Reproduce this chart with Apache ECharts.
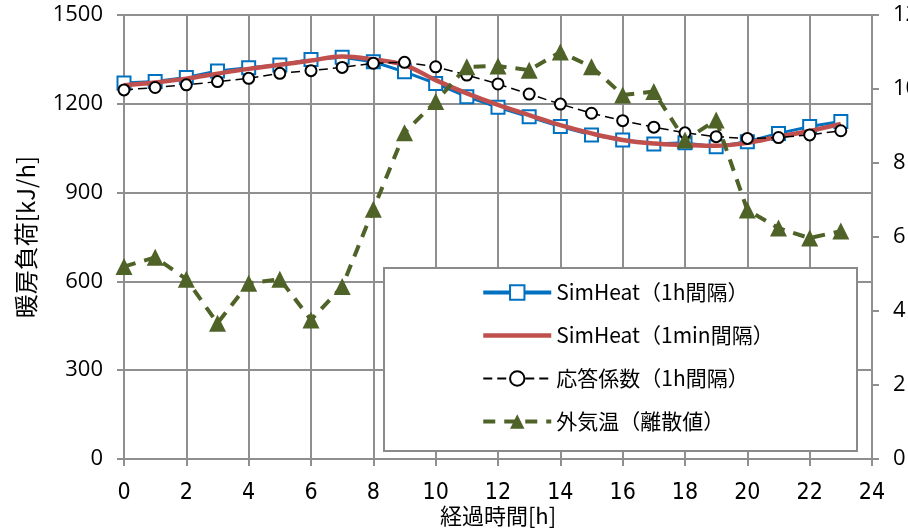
<!DOCTYPE html>
<html>
<head>
<meta charset="utf-8">
<script src="https://cdn.jsdelivr.net/npm/echarts@6/dist/echarts.min.js"></script>
<style>
html,body{margin:0;padding:0;overflow:hidden;background:#fff;}
#chart{width:960px;height:529px;}
</style>
</head>
<body>
<div id="chart"></div>
<script>
const hours = [0,1,2,3,4,5,6,7,8,9,10,11,12,13,14,15,16,17,18,19,20,21,22,23];
const simHeat1h = [1270,1275,1289,1311,1322,1331,1350,1357,1342,1308,1269,1224,1188,1156,1123,1095,1078,1064,1068,1055,1072,1100,1123,1140];
const simHeat1min = [1263,1272,1285,1302,1318,1332,1346,1360,1350,1331,1280,1235,1196,1162,1128,1100,1078,1066,1061,1058,1068,1089,1108,1132];
const responseFactor = [1247,1255,1264,1275,1286,1303,1312,1323,1337,1340,1325,1297,1267,1233,1199,1168,1143,1121,1102,1089,1083,1086,1095,1109];
const outdoorTemp = [5.2,5.45,4.86,3.67,4.75,4.86,3.76,4.66,6.75,8.82,9.66,10.6,10.62,10.51,11.0,10.6,9.84,9.93,8.62,9.16,6.73,6.24,5.97,6.16];
const seriesNames = ['SimHeat（1h間隔）','SimHeat（1min間隔）','応答係数（1h間隔）','外気温（離散値）'];
const xTitle = '経過時間[h]';
const yTitle = '暖房負荷[kJ/h]';

const pair = (arr) => hours.map((h, i) => [h, arr[i]]);
const gridColor = '#8f8f8f';
const numFont = "'Open Sans','Noto Sans',sans-serif";
const cjkFont = "'Noto Sans CJK JP','Noto Sans',sans-serif";

const chart = echarts.init(document.getElementById('chart'), null, {renderer: 'canvas'});
chart.setOption({
  animation: false,
  backgroundColor: '#fff',
  grid: {left: 124, right: 88, top: 15, bottom: 70, containLabel: false, outerBoundsMode: 'none'},
  graphic: [{
    type: 'rect', z: 5,
    shape: {x: 384, y: 268, width: 473, height: 183},
    style: {fill: '#fff', stroke: '#8a8a8a', lineWidth: 2}
  }],
  legend: {
    z: 10,
    orient: 'vertical',
    left: 476, top: 277,
    itemWidth: 68, itemHeight: 18,
    itemGap: 22,
    textStyle: {fontFamily: cjkFont, fontSize: 21, color: '#000', lineHeight: 18},
    data: [
      {name: seriesNames[0], lineStyle: {width: 4}},
      {name: seriesNames[1], lineStyle: {width: 4.5}, itemStyle: {color: 'rgba(0,0,0,0)', borderColor: 'rgba(0,0,0,0)'}},
      {name: seriesNames[2], lineStyle: {width: 2}},
      {name: seriesNames[3], lineStyle: {width: 4}}
    ]
  },
  xAxis: {
    type: 'value', min: 0, max: 24, interval: 2,
    name: xTitle, nameLocation: 'middle', nameGap: 46, nameMoveOverlap: false,
    nameTextStyle: {fontFamily: cjkFont, fontSize: 22, color: '#000'},
    axisLine: {show: true, onZero: false, lineStyle: {color: gridColor, width: 2}},
    axisTick: {show: true, length: 7, lineStyle: {color: gridColor, width: 2}},
    axisLabel: {fontFamily: "'Liberation Sans Narrow','DejaVu Sans Condensed',sans-serif", fontSize: 23, color: '#000', margin: 23},
    splitLine: {show: true, lineStyle: {color: gridColor, width: 2}}
  },
  yAxis: [{
    type: 'value', min: 0, max: 1500, interval: 300,
    name: yTitle, nameLocation: 'middle', nameGap: 86, nameMoveOverlap: false,
    nameTextStyle: {fontFamily: cjkFont, fontSize: 24, color: '#000'},
    axisLine: {show: true, lineStyle: {color: gridColor, width: 2}},
    axisTick: {show: true, length: 7, lineStyle: {color: gridColor, width: 2}},
    axisLabel: {fontFamily: numFont, fontSize: 22, color: '#000', margin: 21, formatter: (v) => String(v)},
    splitLine: {show: true, lineStyle: {color: gridColor, width: 2}}
  }, {
    type: 'value', min: 0, max: 12, interval: 2, position: 'right',
    axisLine: {show: true, lineStyle: {color: gridColor, width: 2}},
    axisTick: {show: true, length: 7, lineStyle: {color: gridColor, width: 2}},
    axisLabel: {fontFamily: numFont, fontSize: 22, color: '#000', margin: 21, formatter: (v) => String(v)},
    splitLine: {show: false}
  }],
  series: [{
    name: seriesNames[0], type: 'line', yAxisIndex: 0, z: 2,
    data: pair(simHeat1h),
    symbol: 'emptyRect', symbolSize: 13,
    lineStyle: {color: '#0070c0', width: 3},
    itemStyle: {color: '#0070c0', borderColor: '#0070c0', borderWidth: 1.6}
  }, {
    name: seriesNames[1], type: 'line', yAxisIndex: 0, z: 3,
    data: pair(simHeat1min), smooth: 0.4,
    showSymbol: false, symbol: 'none',
    lineStyle: {color: '#c0504d', width: 4.5},
    itemStyle: {color: '#c0504d'}
  }, {
    name: seriesNames[2], type: 'line', yAxisIndex: 0, z: 3,
    data: pair(responseFactor),
    symbol: 'emptyCircle', symbolSize: 11,
    lineStyle: {color: '#000', width: 1.5, type: [9, 5]},
    itemStyle: {color: '#000', borderColor: '#000', borderWidth: 1.6}
  }, {
    name: seriesNames[3], type: 'line', yAxisIndex: 1, z: 3,
    data: pair(outdoorTemp),
    symbol: 'triangle', symbolSize: 17,
    lineStyle: {color: '#4f6228', width: 4, type: [12, 9]},
    itemStyle: {color: '#4f6228'}
  }]
});
</script>
</body>
</html>
